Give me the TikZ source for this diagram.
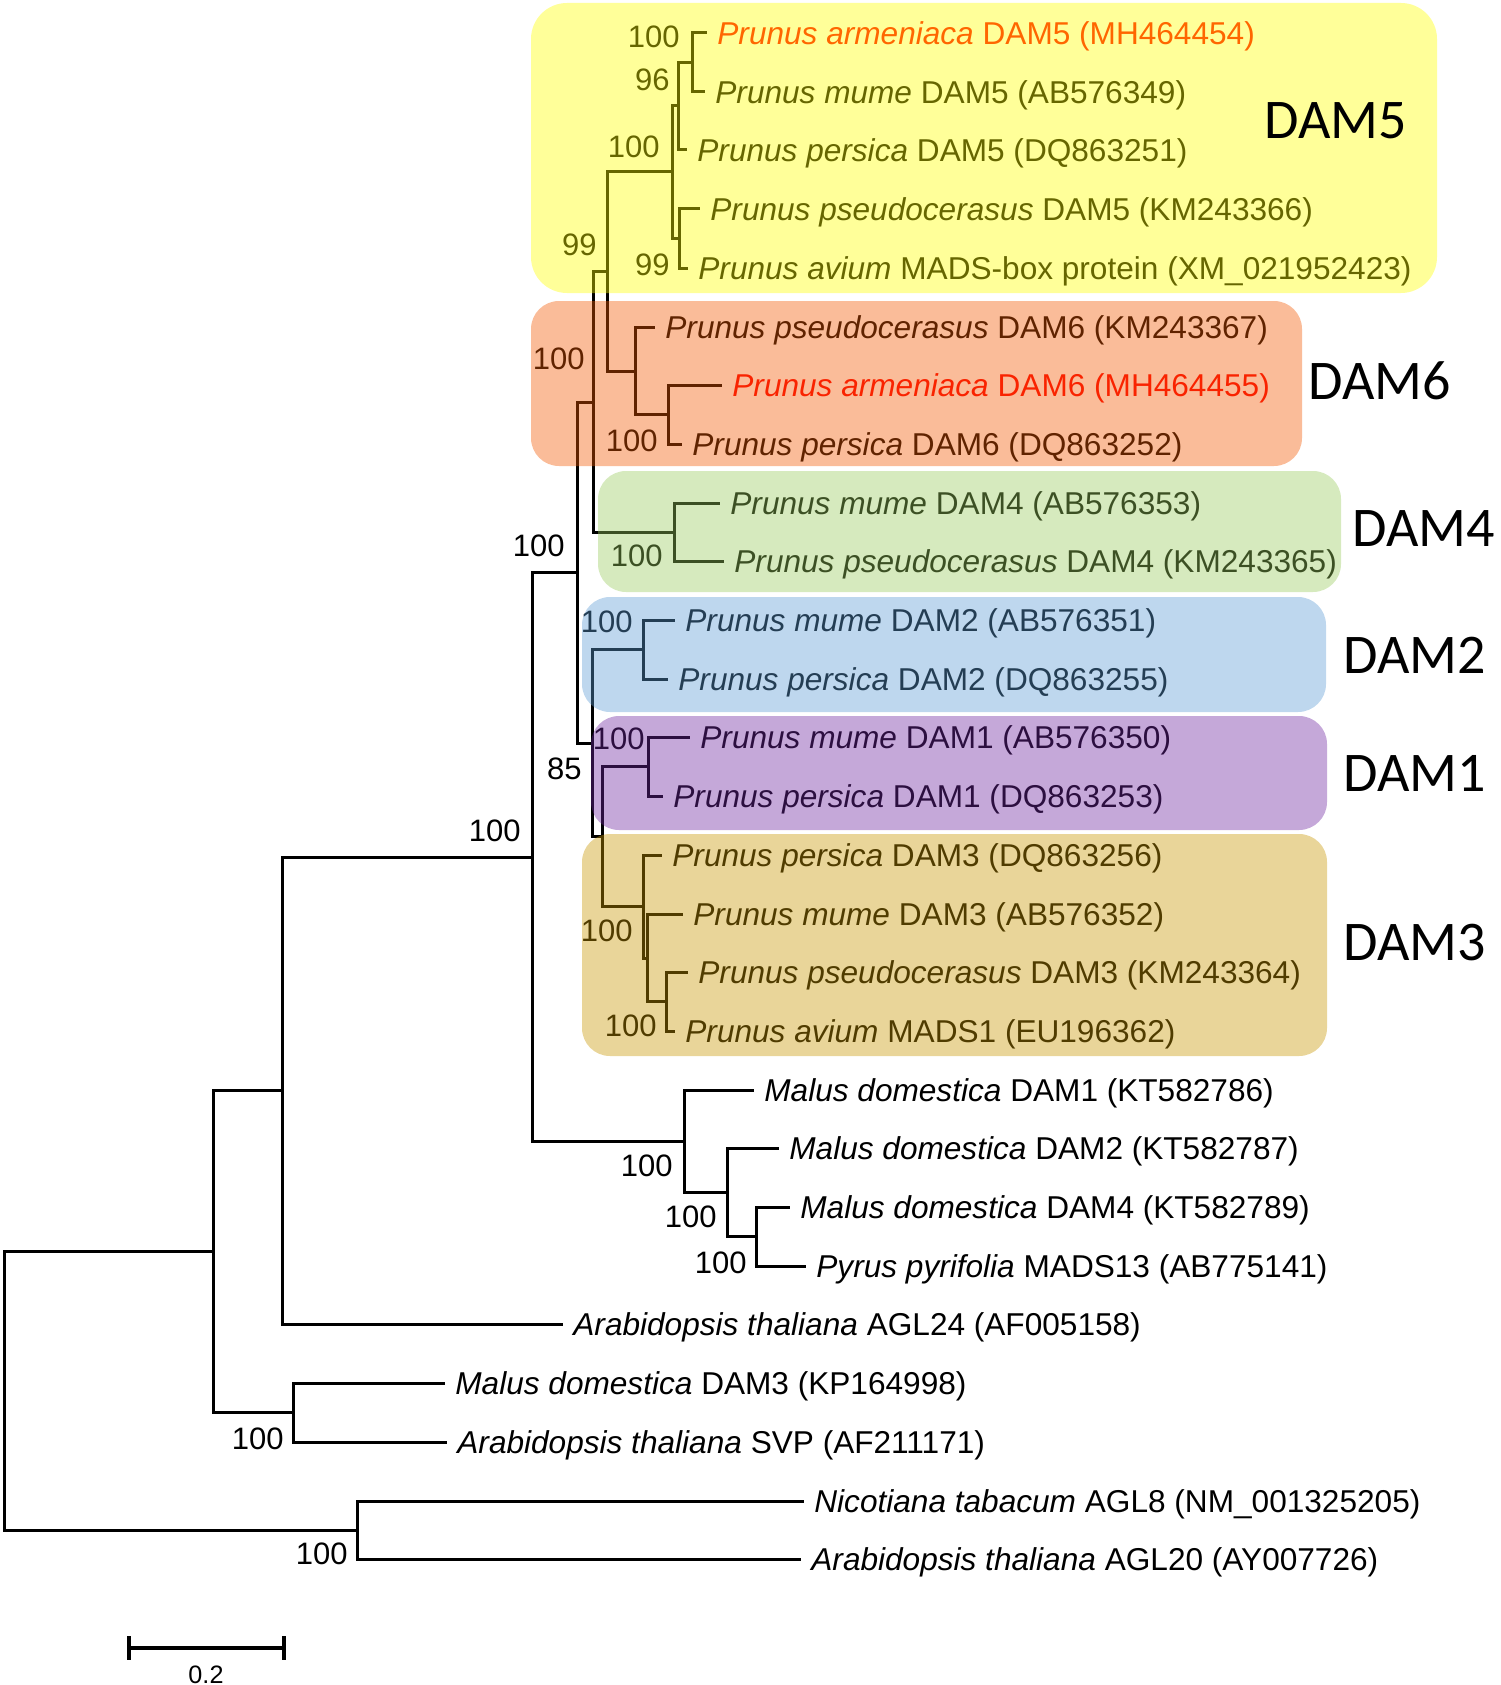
\documentclass[tikz,border=0pt]{standalone}
\usepackage{fontspec}
\setmainfont{Liberation Sans}
\newfontfamily\cladefont{Carlito}
\definecolor{damfive}{RGB}{255,255,0}
\definecolor{damsix}{RGB}{242,88,0}
\definecolor{damfour}{RGB}{152,202,92}
\definecolor{damtwo}{RGB}{92,155,212}
\definecolor{damone}{RGB}{110,38,160}
\definecolor{damthree}{RGB}{200,150,0}

\begin{document}
\begin{tikzpicture}[x=0.5pt,y=-0.5pt,
    branch/.style={line width=1.5pt},
    leaf/.style={anchor=west,inner xsep=5pt,inner ysep=0pt,text height=11.4pt,text depth=0pt,font=\fontsize{15.8}{19}\selectfont},
    boot/.style={anchor=east,inner sep=0pt,text height=11.2pt,text depth=0pt,font=\fontsize{15.5}{19}\selectfont},
    clade/.style={inner sep=0pt,text height=18pt,text depth=0pt,font=\cladefont\fontsize{28}{30}\selectfont},
    cladebox/.style={fill opacity=0.4,rounded corners=14pt}]
    \useasboundingbox (0,0) rectangle (1500,1685);

    % leaves
    \node [leaf,red] (ar5) at (707,33) {\textit{Prunus armeniaca} DAM5 (MH464454)};
    \node [leaf] (mu5) at (705,92) {\textit{Prunus mume} DAM5 (AB576349)};
    \node [leaf] (pe5) at (687,150) {\textit{Prunus persica} DAM5 (DQ863251)};
    \node [leaf] (ps5) at (700,209) {\textit{Prunus pseudocerasus} DAM5 (KM243366)};
    \node [leaf] (av5) at (688,268) {\textit{Prunus avium} MADS-box protein (XM\_021952423)};
    \node [leaf] (ps6) at (655,327) {\textit{Prunus pseudocerasus} DAM6 (KM243367)};
    \node [leaf,red] (ar6) at (722,385) {\textit{Prunus armeniaca} DAM6 (MH464455)};
    \node [leaf] (pe6) at (682,444) {\textit{Prunus persica} DAM6 (DQ863252)};
    \node [leaf] (mu4) at (720,503) {\textit{Prunus mume} DAM4 (AB576353)};
    \node [leaf] (ps4) at (724,561) {\textit{Prunus pseudocerasus} DAM4 (KM243365)};
    \node [leaf] (mu2) at (675,620) {\textit{Prunus mume} DAM2 (AB576351)};
    \node [leaf] (pe2) at (668,679) {\textit{Prunus persica} DAM2 (DQ863255)};
    \node [leaf] (mu1) at (690,737) {\textit{Prunus mume} DAM1 (AB576350)};
    \node [leaf] (pe1) at (663,796) {\textit{Prunus persica} DAM1 (DQ863253)};
    \node [leaf] (pe3) at (662,855) {\textit{Prunus persica} DAM3 (DQ863256)};
    \node [leaf] (mu3) at (683,914) {\textit{Prunus mume} DAM3 (AB576352)};
    \node [leaf] (ps3) at (688,972) {\textit{Prunus pseudocerasus} DAM3 (KM243364)};
    \node [leaf] (av3) at (675,1031) {\textit{Prunus avium} MADS1 (EU196362)};
    \node [leaf] (md1) at (754,1090) {\textit{Malus domestica} DAM1 (KT582786)};
    \node [leaf] (md2) at (779,1148) {\textit{Malus domestica} DAM2 (KT582787)};
    \node [leaf] (md4) at (790,1207) {\textit{Malus domestica} DAM4 (KT582789)};
    \node [leaf] (pyr) at (806,1266) {\textit{Pyrus pyrifolia} MADS13 (AB775141)};
    \node [leaf] (at24) at (563,1324) {\textit{Arabidopsis thaliana} AGL24 (AF005158)};
    \node [leaf] (md3) at (445,1383) {\textit{Malus domestica} DAM3 (KP164998)};
    \node [leaf] (svp) at (447,1442) {\textit{Arabidopsis thaliana} SVP (AF211171)};
    \node [leaf] (nic) at (804,1501) {\textit{Nicotiana tabacum} AGL8 (NM\_001325205)};
    \node [leaf] (at20) at (801,1559) {\textit{Arabidopsis thaliana} AGL20 (AY007726)};

    % internal nodes
    \coordinate (n1) at (692,62.5);
    \coordinate (n2) at (678,106);
    \coordinate (n3) at (679,238.5);
    \coordinate (n4) at (672,172);
    \coordinate (n5) at (668,414.5);
    \coordinate (n6) at (635,371);
    \coordinate (n7) at (607,271.5);
    \coordinate (n8) at (674,532);
    \coordinate (n9) at (593,402);
    \coordinate (n10) at (643,649.5);
    \coordinate (n11) at (648,766.5);
    \coordinate (n12) at (666,1001.5);
    \coordinate (n13) at (647,958);
    \coordinate (n14) at (643,906.5);
    \coordinate (n15) at (602,836.5);
    \coordinate (n16) at (592,743);
    \coordinate (n17) at (577,572.5);
    \coordinate (n18) at (756,1236.5);
    \coordinate (n19) at (727,1192);
    \coordinate (n20) at (684,1141);
    \coordinate (n21) at (532,857);
    \coordinate (n22) at (282,1090.5);
    \coordinate (n23) at (293,1412.5);
    \coordinate (n24) at (213,1251.5);
    \coordinate (n25) at (357,1530);
    \coordinate (root) at (4,1391);

    % branches
    \draw [branch] (n1) |- (ar5.west) (n1) |- (mu5.west);
    \draw [branch] (n2) |- (n1) (n2) |- (pe5.west);
    \draw [branch] (n3) |- (ps5.west) (n3) |- (av5.west);
    \draw [branch] (n4) |- (n2) (n4) |- (n3);
    \draw [branch] (n5) |- (ar6.west) (n5) |- (pe6.west);
    \draw [branch] (n6) |- (ps6.west) (n6) |- (n5);
    \draw [branch] (n7) |- (n4) (n7) |- (n6);
    \draw [branch] (n8) |- (mu4.west) (n8) |- (ps4.west);
    \draw [branch] (n9) |- (n7) (n9) |- (n8);
    \draw [branch] (n10) |- (mu2.west) (n10) |- (pe2.west);
    \draw [branch] (n11) |- (mu1.west) (n11) |- (pe1.west);
    \draw [branch] (n12) |- (ps3.west) (n12) |- (av3.west);
    \draw [branch] (n13) |- (mu3.west) (n13) |- (n12);
    \draw [branch] (n14) |- (pe3.west) (n14) |- (n13);
    \draw [branch] (n15) |- (n11) (n15) |- (n14);
    \draw [branch] (n16) |- (n10) (n16) |- (n15);
    \draw [branch] (n17) |- (n9) (n17) |- (n16);
    \draw [branch] (n18) |- (md4.west) (n18) |- (pyr.west);
    \draw [branch] (n19) |- (md2.west) (n19) |- (n18);
    \draw [branch] (n20) |- (md1.west) (n20) |- (n19);
    \draw [branch] (n21) |- (n17) (n21) |- (n20);
    \draw [branch] (n22) |- (n21) (n22) |- (at24.west);
    \draw [branch] (n23) |- (md3.west) (n23) |- (svp.west);
    \draw [branch] (n24) |- (n22) (n24) |- (n23);
    \draw [branch] (n25) |- (nic.west) (n25) |- (at20.west);
    \draw [branch] (root) |- (n24) (root) |- (n25);

    % bootstrap values
    \node [boot] (b1) at (680,36) {100};
    \node [boot] (b2) at (670,79) {96};
    \node [boot] (b3) at (660,146) {100};
    \node [boot] (b4) at (670,264) {99};
    \node [boot] (b5) at (597,244) {99};
    \node [boot] (b6) at (585,358) {100};
    \node [boot] (b7) at (658,440) {100};
    \node [boot] (b8) at (663,555) {100};
    \node [boot] (b9) at (565,545) {100};
    \node [boot] (b10) at (582,768) {85};
    \node [boot] (b11) at (633,621) {100};
    \node [boot] (b12) at (645,738) {100};
    \node [boot] (b13) at (633,930) {100};
    \node [boot] (b14) at (657,1025) {100};
    \node [boot] (b15) at (521,830) {100};
    \node [boot] (b16) at (673,1165) {100};
    \node [boot] (b17) at (717,1216) {100};
    \node [boot] (b18) at (747,1262) {100};
    \node [boot] (b19) at (284,1438) {100};
    \node [boot] (b20) at (348,1553) {100};

    % clade boxes, laid over the tree
    \fill [cladebox,damfive,rounded corners=18pt] (531,3) rectangle (1437,293);
    \fill [cladebox,damsix] (531,301) rectangle (1302,466);
    \fill [cladebox,damfour] (598,471) rectangle (1341,592);
    \fill [cladebox,damtwo] (582,597) rectangle (1326,712);
    \fill [cladebox,damone] (591,716) rectangle (1327,830);
    \fill [cladebox,damthree] (582,834) rectangle (1327,1056);

    \node [clade] (dam5) at (1336,121) {DAM5};
    \node [clade] (dam6) at (1380,381) {DAM6};
    \node [clade] (dam4) at (1424,528) {DAM4};
    \node [clade] (dam2) at (1415,655) {DAM2};
    \node [clade] (dam1) at (1415,773) {DAM1};
    \node [clade] (dam3) at (1415,942) {DAM3};

    % scale bar
    \coordinate (barL) at (129,1648);
    \coordinate (barR) at (284,1648);
    \draw [line width=1.8pt] (barL) -- (barR);
    \draw [line width=2pt] ([yshift=6pt]barL) -- ([yshift=-6pt]barL);
    \draw [line width=2pt] ([yshift=6pt]barR) -- ([yshift=-6pt]barR);
    \node [inner sep=0pt,text height=9pt,text depth=0pt,font=\fontsize{12.6}{15}\selectfont] (scale) at (206,1674) {0.2};
\end{tikzpicture}
\end{document}
